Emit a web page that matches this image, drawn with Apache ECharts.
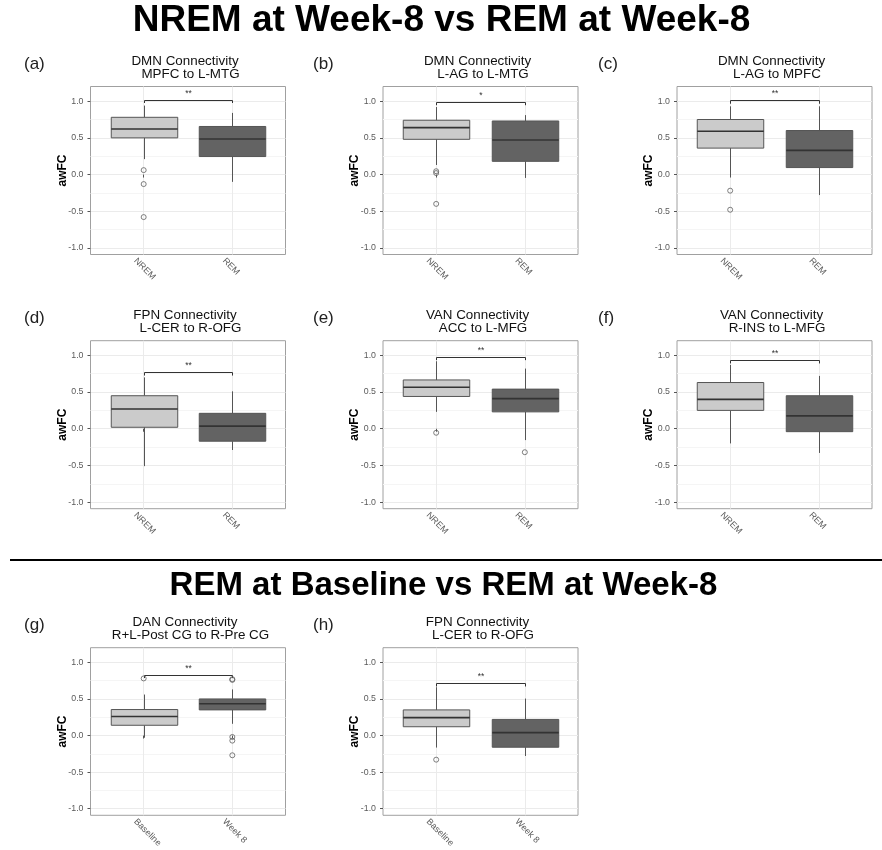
<!DOCTYPE html>
<html>
<head>
<meta charset="utf-8">
<script src="https://cdn.jsdelivr.net/npm/echarts@6/dist/echarts.min.js"></script>
<style>
  html, body { margin: 0; padding: 0; background: #ffffff; }
  #chart { width: 882px; height: 850px; }
</style>
</head>
<body>
<div id="chart"></div>
<script>
// ---- data -------------------------------------------------------------
const sleepGroups = ['NREM', 'REM'];
const timeGroups = ['Baseline', 'Week 8'];

const yTicks = [-1, -0.5, 0, 0.5, 1];
const yMinorTicks = [-0.75, -0.25, 0.25, 0.75];

// five-number summaries per group: [lower whisker, Q1, median, Q3, upper whisker]
const boxesA = [[0.21, 0.50, 0.62, 0.78, 0.94], [-0.10, 0.245, 0.485, 0.655, 0.84]];
const boxesB = [[0.13, 0.48, 0.64, 0.74, 0.92], [-0.045, 0.18, 0.47, 0.73, 0.81]];
const boxesC = [[-0.01, 0.36, 0.59, 0.75, 0.93], [-0.28, 0.095, 0.33, 0.60, 0.93]];
const boxesD = [[-0.51, 0.02, 0.27, 0.45, 0.70], [-0.29, -0.17, 0.036, 0.21, 0.51]];
const boxesE = [[0.23, 0.44, 0.565, 0.665, 0.92], [-0.155, 0.23, 0.41, 0.54, 0.82]];
const boxesF = [[-0.20, 0.25, 0.40, 0.63, 0.87], [-0.33, -0.04, 0.175, 0.45, 0.72]];
const boxesG = [[-0.03, 0.14, 0.26, 0.355, 0.56], [0.16, 0.35, 0.435, 0.50, 0.63]];
const boxesH = [[-0.165, 0.12, 0.245, 0.35, 0.66], [-0.28, -0.16, 0.04, 0.22, 0.505]];

// outlying observations per group
const outliersA = [[0.06, -0.13, -0.58], []];
const outliersB = [[0.045, 0.02, -0.40], []];
const outliersC = [[-0.22, -0.48], []];
const outliersD = [[], []];
const outliersE = [[-0.055], [-0.32]];
const outliersF = [[], []];
const outliersG = [[0.78], [0.77, 0.76, -0.02, -0.07, -0.27]];
const outliersH = [[-0.33], []];

// significance bracket heights and labels
const bracketHeights = [1.02, 0.99, 1.01, 0.77, 0.98, 0.935, 0.83, 0.715];
const bracketLabels = ['**', '*', '**', '**', '**', '**', '**', '**'];

const panelTags = ['(a)', '(b)', '(c)', '(d)', '(e)', '(f)', '(g)', '(h)'];
const panelTitles = [
  ['DMN Connectivity', 'MPFC to L-MTG'],
  ['DMN Connectivity', 'L-AG to L-MTG'],
  ['DMN Connectivity', 'L-AG to MPFC'],
  ['FPN Connectivity', 'L-CER to R-OFG'],
  ['VAN Connectivity', 'ACC to L-MFG'],
  ['VAN Connectivity', 'R-INS to L-MFG'],
  ['DAN Connectivity', 'R+L-Post CG to R-Pre CG'],
  ['FPN Connectivity', 'L-CER to R-OFG']
];
const sectionTitles = ['NREM at Week-8 vs REM at Week-8', 'REM at Baseline vs REM at Week-8'];

// ---- layout & style ----------------------------------------------------
const FONT = '"Liberation Sans", Arial, Helvetica, sans-serif';
const boxFills = ['#cbcbcb', '#636363'];
const BOX_WIDTH = 0.75;
const TIP = 0.045;
const LABEL_SHIFT = 0.095;   // rotated category labels start a little left of their tick

const colLefts = [90.5, 383, 677];
const tagLefts = [24, 313, 598];
const colWidth = 195;
const rowTops = [86.5, 340.7, 647.7];
const rowHeight = 168;

const panels = [
  { boxes: boxesA, outliers: outliersA, groups: sleepGroups, row: 0, col: 0 },
  { boxes: boxesB, outliers: outliersB, groups: sleepGroups, row: 0, col: 1 },
  { boxes: boxesC, outliers: outliersC, groups: sleepGroups, row: 0, col: 2 },
  { boxes: boxesD, outliers: outliersD, groups: sleepGroups, row: 1, col: 0 },
  { boxes: boxesE, outliers: outliersE, groups: sleepGroups, row: 1, col: 1 },
  { boxes: boxesF, outliers: outliersF, groups: sleepGroups, row: 1, col: 2 },
  { boxes: boxesG, outliers: outliersG, groups: timeGroups, row: 2, col: 0 },
  { boxes: boxesH, outliers: outliersH, groups: timeGroups, row: 2, col: 1 }
];

const grids = [], xAxes = [], yAxes = [], series = [], graphics = [];

function renderBox(params, api) {
  const x = api.value(0);
  const lo = api.coord([x, api.value(1)]);
  const q1 = api.coord([x, api.value(2)]);
  const md = api.coord([x, api.value(3)]);
  const q3 = api.coord([x, api.value(4)]);
  const hi = api.coord([x, api.value(5)]);
  const half = api.size([BOX_WIDTH, 0])[0] / 2;
  const cx = Math.round(lo[0]) + 0.5;
  return {
    type: 'group',
    children: [
      { type: 'line', shape: { x1: cx, y1: lo[1], x2: cx, y2: q1[1] }, style: { stroke: '#555', lineWidth: 1 } },
      { type: 'line', shape: { x1: cx, y1: q3[1], x2: cx, y2: hi[1] }, style: { stroke: '#555', lineWidth: 1 } },
      { type: 'rect', shape: { x: cx - half, y: q3[1], width: half * 2, height: q1[1] - q3[1] },
        style: { fill: boxFills[params.dataIndex], stroke: '#555', lineWidth: 1 } },
      { type: 'line', shape: { x1: cx - half, y1: md[1], x2: cx + half, y2: md[1] }, style: { stroke: '#333', lineWidth: 1.6 } }
    ]
  };
}

panels.forEach(function (p, i) {
  const left = colLefts[p.col];
  const top = rowTops[p.row];
  grids.push({
    left: left, top: top, width: colWidth, height: rowHeight,
    show: true, backgroundColor: '#ffffff', borderColor: '#a0a0a0', borderWidth: 1
  });
  const groups = p.groups;
  xAxes.push({
    gridIndex: i, type: 'value', min: 0.4, max: 2.6,
    axisLine: { show: false },
    axisTick: { show: true, customValues: [1, 2], length: 3, lineStyle: { color: '#555', width: 1 } },
    axisLabel: {
      customValues: [1 - LABEL_SHIFT, 2 - LABEL_SHIFT], rotate: -45, margin: 5,
      formatter: function (v) { return groups[Math.round(v) - 1]; },
      fontFamily: FONT, fontSize: 9, color: '#5a5a5a'
    },
    splitLine: { show: true, lineStyle: { color: '#ebebeb', width: 1 } }
  });
  yAxes.push({
    gridIndex: i, type: 'value', min: -1.09, max: 1.2,
    name: 'awFC', nameLocation: 'middle', nameGap: 22, nameRotate: 90, nameMoveOverlap: false,
    nameTextStyle: { fontFamily: FONT, fontWeight: 'bold', fontSize: 12, color: '#000' },
    axisLine: { show: false },
    axisTick: { show: true, customValues: yTicks, length: 3, lineStyle: { color: '#555', width: 1 } },
    axisLabel: {
      customValues: yTicks, margin: 7,
      formatter: function (v) { return v.toFixed(1); },
      fontFamily: FONT, fontSize: 8.8, color: '#5a5a5a'
    },
    splitLine: { show: true, lineStyle: { color: '#ebebeb', width: 1 } }
  });
  yAxes.push({
    gridIndex: i, type: 'value', min: -1.09, max: 1.2, position: 'left',
    axisLine: { show: false },
    axisTick: { show: false, customValues: yMinorTicks },
    axisLabel: { show: false, customValues: yMinorTicks },
    splitLine: { show: true, lineStyle: { color: '#f5f5f5', width: 1 } }
  });

  // boxes
  series.push({
    type: 'custom', xAxisIndex: i, yAxisIndex: 2 * i, z: 2,
    renderItem: renderBox,
    encode: { x: 0, y: [1, 2, 3, 4, 5] },
    data: p.boxes.map(function (b, g) { return [g + 1].concat(b); })
  });

  // outliers
  const pts = [];
  p.outliers.forEach(function (list, g) { list.forEach(function (v) { pts.push([g + 1, v]); }); });
  series.push({
    type: 'scatter', xAxisIndex: i, yAxisIndex: 2 * i, z: 3,
    symbol: 'circle', symbolSize: 5,
    itemStyle: { color: 'rgba(255,255,255,0)', borderColor: '#5f5f5f', borderWidth: 1 },
    data: pts
  });

  // significance bracket
  const sig = bracketLabels[i];
  series.push({
    type: 'custom', xAxisIndex: i, yAxisIndex: 2 * i, z: 3,
    renderItem: function (params, api) {
      const y = api.value(2);
      const a = api.coord([api.value(0), y]);
      const b = api.coord([api.value(1), y]);
      const ta = api.coord([api.value(0), y - TIP]);
      const ax = Math.round(a[0]) + 0.5, bx = Math.round(b[0]) + 0.5, yy = Math.round(a[1]) + 0.5;
      return {
        type: 'group',
        children: [
          { type: 'polyline', shape: { points: [[ax, ta[1]], [ax, yy], [bx, yy], [bx, ta[1]]] },
            style: { stroke: '#333', lineWidth: 1, fill: null } },
          { type: 'text', style: { text: sig, x: (ax + bx) / 2, y: yy - 2,
            textAlign: 'center', textVerticalAlign: 'bottom', align: 'center', verticalAlign: 'bottom',
            font: '8.5px ' + FONT, fill: '#333' } }
        ]
      };
    },
    data: [[1, 2, bracketHeights[i]]]
  });

  // panel tag and title
  const cx = left + colWidth / 2;
  graphics.push({
    type: 'text', silent: true,
    style: { text: panelTags[i], x: tagLefts[p.col], y: top - 22,
      textAlign: 'left', textVerticalAlign: 'middle', align: 'left', verticalAlign: 'middle',
      font: '17px ' + FONT, fill: '#222' }
  });
  graphics.push({
    type: 'text', silent: true,
    style: { text: panelTitles[i][0], x: cx - 3, y: top - 25,
      textAlign: 'center', textVerticalAlign: 'middle', align: 'center', verticalAlign: 'middle',
      font: '13.4px ' + FONT, fill: '#111' }
  });
  graphics.push({
    type: 'text', silent: true,
    style: { text: panelTitles[i][1], x: cx + 2.5, y: top - 12,
      textAlign: 'center', textVerticalAlign: 'middle', align: 'center', verticalAlign: 'middle',
      font: '13.4px ' + FONT, fill: '#111' }
  });
});

// section headings and divider
graphics.push({
  type: 'text', silent: true,
  style: { text: sectionTitles[0], x: 441.5, y: 21,
    textAlign: 'center', textVerticalAlign: 'middle', align: 'center', verticalAlign: 'middle',
    font: 'bold 37px ' + FONT, fill: '#000' }
});
graphics.push({
  type: 'line', silent: true,
  shape: { x1: 10, y1: 560, x2: 882, y2: 560 },
  style: { stroke: '#000', lineWidth: 2 }
});
graphics.push({
  type: 'text', silent: true,
  style: { text: sectionTitles[1], x: 443.5, y: 586,
    textAlign: 'center', textVerticalAlign: 'middle', align: 'center', verticalAlign: 'middle',
    font: 'bold 33px ' + FONT, fill: '#000' }
});

const chart = echarts.init(document.getElementById('chart'), null, { renderer: 'canvas' });
chart.setOption({
  animation: false,
  backgroundColor: '#ffffff',
  grid: grids,
  xAxis: xAxes,
  yAxis: yAxes,
  series: series,
  graphic: { elements: graphics }
});
</script>
</body>
</html>
